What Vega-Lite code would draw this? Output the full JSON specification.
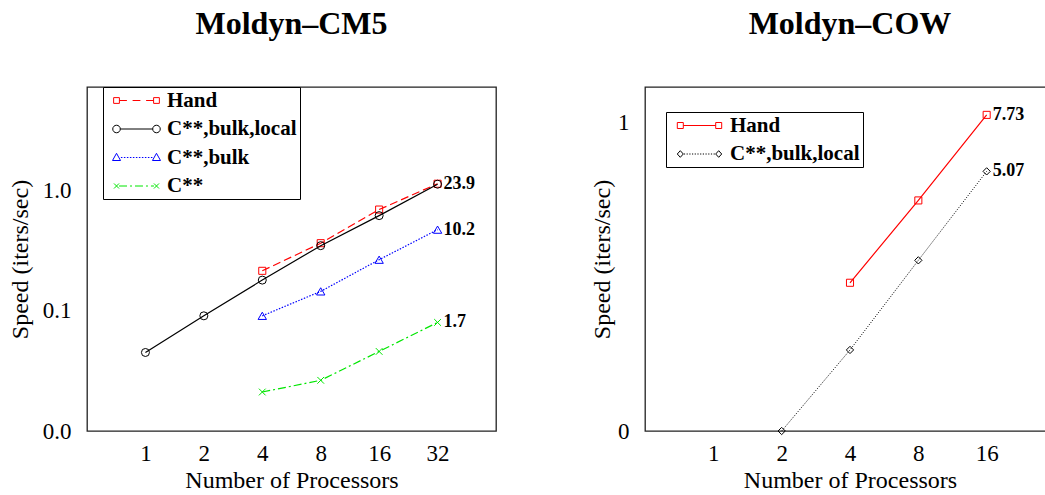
{
  "$schema": "https://vega.github.io/schema/vega-lite/v6.json",
  "background": "white",
  "padding": {"left": 7, "top": 6, "right": 0, "bottom": 0},
  "bounds": "flush",
  "spacing": 149,
  "config": {
    "view": {"stroke": "#222222", "strokeWidth": 1.3},
    "axis": {
      "grid": false, "domain": false,
      "labelFont": "Liberation Serif", "labelFontSize": 23, "labelColor": "black",
      "titleFont": "Liberation Serif", "titleFontSize": 24, "titleFontWeight": "normal", "titleColor": "black",
      "tickColor": "black", "labelOverlap": false, "labelFlush": false
    },
    "title": {"font": "Liberation Serif", "fontSize": 32, "fontWeight": "bold", "color": "black", "offset": 46, "baseline": "alphabetic", "anchor": "middle"},
    "legend": {
      "labelFont": "Liberation Serif", "labelFontSize": 21, "labelFontWeight": "bold", "labelColor": "black", "labelLimit": 400
    }
  },
  "resolve": {
    "scale": {"color": "independent", "shape": "independent"},
    "legend": {"color": "independent", "shape": "independent"}
  },
  "datasets": {
    "cm5": [
      {"series": "Hand", "n": 4, "speed": 0.215},
      {"series": "Hand", "n": 8, "speed": 0.365},
      {"series": "Hand", "n": 16, "speed": 0.695},
      {"series": "Hand", "n": 32, "speed": 1.14, "label": "23.9"},
      {"series": "C**,bulk,local", "n": 1, "speed": 0.045},
      {"series": "C**,bulk,local", "n": 2, "speed": 0.0908},
      {"series": "C**,bulk,local", "n": 4, "speed": 0.18},
      {"series": "C**,bulk,local", "n": 8, "speed": 0.348},
      {"series": "C**,bulk,local", "n": 16, "speed": 0.619},
      {"series": "C**,bulk,local", "n": 32, "speed": 1.13},
      {"series": "C**,bulk", "n": 4, "speed": 0.0908},
      {"series": "C**,bulk", "n": 8, "speed": 0.145},
      {"series": "C**,bulk", "n": 16, "speed": 0.266},
      {"series": "C**,bulk", "n": 32, "speed": 0.473, "label": "10.2"},
      {"series": "C**", "n": 4, "speed": 0.0211},
      {"series": "C**", "n": 8, "speed": 0.0264},
      {"series": "C**", "n": 16, "speed": 0.0459},
      {"series": "C**", "n": 32, "speed": 0.08, "label": "1.7"}
    ],
    "cow": [
      {"series": "Hand", "n": 4, "speed": 0.302},
      {"series": "Hand", "n": 8, "speed": 0.558},
      {"series": "Hand", "n": 16, "speed": 1.056, "label": "7.73"},
      {"series": "C**,bulk,local", "n": 2, "speed": 0.1},
      {"series": "C**,bulk,local", "n": 4, "speed": 0.183},
      {"series": "C**,bulk,local", "n": 8, "speed": 0.357},
      {"series": "C**,bulk,local", "n": 16, "speed": 0.693, "label": "5.07"}
    ]
  },
  "hconcat": [
    {
      "width": 409,
      "height": 344,
      "title": {"text": "Moldyn–CM5"},
      "data": {"name": "cm5"},
      "resolve": {"axis": {"y": "independent"}},
      "encoding": {
        "x": {
          "field": "n", "type": "quantitative",
          "scale": {"type": "log", "base": 2, "domain": [0.5, 64], "nice": false},
          "axis": {"values": [1, 2, 4, 8, 16, 32], "format": "d", "ticks": false, "labelPadding": 29, "labelBaseline": "alphabetic", "labelFont": "Liberation Serif", "labelFontSize": 23, "title": "Number of Processors", "titleFont": "Liberation Serif", "titleFontSize": 24, "titlePadding": 3}
        },
        "y": {
          "field": "speed", "type": "quantitative",
          "scale": {"type": "log", "domain": [0.01, 7.27], "nice": false},
          "axis": null
        }
      },
      "layer": [
        {
          "transform": [{"filter": "datum.series == 'Hand'"}],
          "mark": {"type": "line", "color": "#ff0000", "strokeWidth": 1.2, "strokeDash": [8, 4],
                   "point": {"shape": "square", "filled": false, "size": 50, "color": "#ff0000", "strokeWidth": 1, "opacity": 1}},
          "encoding": {
            "y": {
              "field": "speed", "type": "quantitative",
              "scale": {"type": "log", "domain": [0.01, 7.27], "nice": false},
              "axis": {
                "orient": "left", "title": "Speed (iters/sec)",
                "values": [0.01, 0.02, 0.03, 0.04, 0.05, 0.06, 0.07, 0.08, 0.09, 0.1, 0.2, 0.3, 0.4, 0.5, 0.6, 0.7, 0.8, 0.9, 1, 2, 3, 4, 5, 6, 7],
                "labelExpr": "(datum.value == 0.01 || datum.value == 0.1 || datum.value == 1) ? format(datum.value, '.1f') : ''",
                "labelFont": "Liberation Serif",
                "labelFontSize": {"condition": {"test": "datum.value == 0.01 || datum.value == 0.1 || datum.value == 1", "value": 23}, "value": 0},
                "titleFont": "Liberation Serif", "titleFontSize": 24,
                "tickSize": 0, "labelPadding": 16, "titlePadding": 10,
                "encode": {"ticks": {"update": {"x2": {"signal": "(datum.value == 0.01 || datum.value == 0.1 || datum.value == 1) ? 5 : 3"}}}}
              }
            }
          }
        },
        {
          "transform": [{"filter": "datum.series == 'C**,bulk,local'"}],
          "mark": {"type": "line", "color": "#000000", "strokeWidth": 1.2,
                   "point": {"shape": "circle", "filled": false, "size": 64, "color": "#000000", "strokeWidth": 1, "opacity": 1}}
        },
        {
          "transform": [{"filter": "datum.series == 'C**,bulk'"}],
          "mark": {"type": "line", "color": "#0000ff", "strokeWidth": 1.2, "strokeDash": [1.5, 1.5],
                   "point": {"shape": "triangle-up", "filled": false, "size": 70, "color": "#0000ff", "strokeWidth": 1, "opacity": 1}}
        },
        {
          "transform": [{"filter": "datum.series == 'C**'"}],
          "mark": {"type": "line", "color": "#00e600", "strokeWidth": 1.2, "strokeDash": [8, 3, 2, 3],
                   "point": {"shape": "M-1,-1L1,1M-1,1L1,-1", "filled": false, "size": 45, "color": "#00e600", "strokeWidth": 1, "opacity": 1}}
        },
        {
          "transform": [{"filter": "isValid(datum.label)"}],
          "mark": {"type": "text", "align": "left", "baseline": "middle", "dx": 6, "font": "Liberation Serif", "fontSize": 18, "fontWeight": "bold", "color": "black"},
          "encoding": {
            "text": {"field": "label"},
            "y": {
              "field": "speed", "type": "quantitative",
              "scale": {"type": "log", "domain": [0.01, 7.27], "nice": false},
              "axis": {
                "orient": "right", "title": null, "labels": false,
                "values": [0.01, 0.02, 0.03, 0.04, 0.05, 0.06, 0.07, 0.08, 0.09, 0.1, 0.2, 0.3, 0.4, 0.5, 0.6, 0.7, 0.8, 0.9, 1, 2, 3, 4, 5, 6, 7],
                "tickSize": 0,
                "encode": {"ticks": {"update": {"x2": {"signal": "(datum.value == 0.01 || datum.value == 0.1 || datum.value == 1) ? -5 : -3"}}}}
              }
            }
          }
        },
        {
          "transform": [{"filter": "datum.n < 0"}],
          "mark": {"type": "point", "filled": false, "strokeWidth": 1, "opacity": 1},
          "encoding": {
            "color": {
              "field": "series", "type": "nominal",
              "scale": {"domain": ["Hand", "C**,bulk,local", "C**,bulk", "C**"], "range": ["#ff0000", "#000000", "#0000ff", "#00e600"]},
              "legend": {"title": null, "orient": "none", "legendX": 16, "legendY": 0, "direction": "vertical", "padding": 3, "strokeColor": "black", "fillColor": "white", "symbolSize": 144, "symbolStrokeWidth": 1, "symbolOpacity": 1, "symbolFillColor": "transparent", "symbolOffset": 20, "labelOffset": 20, "rowPadding": 6.5, "labelFont": "Liberation Serif", "labelFontSize": 21, "labelFontWeight": "bold"}
            },
            "shape": {
              "field": "series", "type": "nominal",
              "scale": {"domain": ["Hand", "C**,bulk,local", "C**,bulk", "C**"], "range": [
                "M-3.81,-0.48H-2.85V0.48H-3.81Z M2.85,-0.48H3.81V0.48H2.85Z M-2.85,0H-1.6 M-0.65,0H0.65 M1.6,0H2.85",
                "M-2.7,0A0.63,0.63 0 1,1 -3.96,0A0.63,0.63 0 1,1 -2.7,0Z M3.96,0A0.63,0.63 0 1,1 2.7,0A0.63,0.63 0 1,1 3.96,0Z M-2.7,0H2.7",
                "M-3.33,-0.7L-2.66,0.5H-4Z M3.33,-0.7L4,0.5H2.66Z M-2.6,0H-2.35 M-2.1,0H-1.85 M-1.6,0H-1.35 M-1.1,0H-0.85 M-0.6,0H-0.35 M-0.1,0H0.15 M0.4,0H0.65 M0.9,0H1.15 M1.4,0H1.65 M1.9,0H2.15 M2.4,0H2.65",
                "M-3.75,-0.42L-2.91,0.42M-3.75,0.42L-2.91,-0.42 M2.91,-0.42L3.75,0.42M2.91,0.42L3.75,-0.42 M-2.91,0H-1.58 M-1.08,0H-0.75 M-0.25,0H1.08 M1.58,0H1.91 M2.41,0H2.91"
              ]},
              "legend": {"title": null, "orient": "none", "legendX": 16, "legendY": 0, "direction": "vertical", "padding": 3, "strokeColor": "black", "fillColor": "white", "symbolSize": 144, "symbolStrokeWidth": 1, "symbolOpacity": 1, "symbolFillColor": "transparent", "symbolOffset": 20, "labelOffset": 20, "rowPadding": 6.5, "labelFont": "Liberation Serif", "labelFontSize": 21, "labelFontWeight": "bold"}
            }
          }
        }
      ]
    },
    {
      "width": 410,
      "height": 344,
      "title": {"text": "Moldyn–COW"},
      "data": {"name": "cow"},
      "resolve": {"axis": {"y": "independent"}},
      "encoding": {
        "x": {
          "field": "n", "type": "quantitative",
          "scale": {"type": "log", "base": 2, "domain": [0.5, 32], "nice": false},
          "axis": {"values": [1, 2, 4, 8, 16], "format": "d", "ticks": false, "labelPadding": 29, "labelBaseline": "alphabetic", "labelFont": "Liberation Serif", "labelFontSize": 23, "title": "Number of Processors", "titleFont": "Liberation Serif", "titleFontSize": 24, "titlePadding": 3}
        },
        "y": {
          "field": "speed", "type": "quantitative",
          "scale": {"type": "log", "domain": [0.1, 1.3], "nice": false},
          "axis": null
        }
      },
      "layer": [
        {
          "transform": [{"filter": "datum.series == 'Hand'"}],
          "mark": {"type": "line", "color": "#ff0000", "strokeWidth": 1.2,
                   "point": {"shape": "square", "filled": false, "size": 50, "color": "#ff0000", "strokeWidth": 1, "opacity": 1}},
          "encoding": {
            "y": {
              "field": "speed", "type": "quantitative",
              "scale": {"type": "log", "domain": [0.1, 1.3], "nice": false},
              "axis": {
                "orient": "left", "title": "Speed (iters/sec)",
                "values": [0.1, 0.2, 0.3, 0.4, 0.5, 0.6, 0.7, 0.8, 0.9, 1],
                "labelExpr": "(datum.value == 0.1 || datum.value == 1) ? format(datum.value, '.0f') : ''",
                "labelFont": "Liberation Serif",
                "labelFontSize": {"condition": {"test": "datum.value == 0.1 || datum.value == 1", "value": 23}, "value": 0},
                "titleFont": "Liberation Serif", "titleFontSize": 24,
                "tickSize": 0, "labelPadding": 16, "titlePadding": 3,
                "encode": {"ticks": {"update": {"x2": {"signal": "(datum.value == 0.1 || datum.value == 1) ? 5 : 3"}}}}
              }
            }
          }
        },
        {
          "transform": [{"filter": "datum.series == 'C**,bulk,local'"}],
          "mark": {"type": "line", "color": "#000000", "strokeWidth": 1, "strokeDash": [1, 1.5],
                   "point": {"shape": "diamond", "filled": false, "size": 53, "color": "#000000", "strokeWidth": 1, "opacity": 1}}
        },
        {
          "transform": [{"filter": "isValid(datum.label)"}],
          "mark": {"type": "text", "align": "left", "baseline": "middle", "dx": 6, "font": "Liberation Serif", "fontSize": 18, "fontWeight": "bold", "color": "black"},
          "encoding": {
            "text": {"field": "label"},
            "y": {
              "field": "speed", "type": "quantitative",
              "scale": {"type": "log", "domain": [0.1, 1.3], "nice": false},
              "axis": null
            }
          }
        },
        {
          "transform": [{"filter": "datum.n < 0"}],
          "mark": {"type": "point", "filled": false, "strokeWidth": 1, "opacity": 1},
          "encoding": {
            "color": {
              "field": "series", "type": "nominal",
              "scale": {"domain": ["Hand", "C**,bulk,local"], "range": ["#ff0000", "#000000"]},
              "legend": {"title": null, "orient": "none", "legendX": 21, "legendY": 25, "direction": "vertical", "padding": 3, "strokeColor": "black", "fillColor": "white", "symbolSize": 144, "symbolStrokeWidth": 1, "symbolOpacity": 1, "symbolFillColor": "transparent", "symbolOffset": 20, "labelOffset": 20, "rowPadding": 6.5, "labelFont": "Liberation Serif", "labelFontSize": 21, "labelFontWeight": "bold"}
            },
            "shape": {
              "field": "series", "type": "nominal",
              "scale": {"domain": ["Hand", "C**,bulk,local"], "range": [
                "M-3.7,-0.5H-2.7V0.5H-3.7Z M2.7,-0.5H3.7V0.5H2.7Z M-2.7,0H2.7",
                "M-3.2,-0.55L-2.7,0L-3.2,0.55L-3.7,0Z M3.2,-0.55L3.7,0L3.2,0.55L2.7,0Z M-2.6,0H-2.4 M-2.15,0H-1.95 M-1.7,0H-1.5 M-1.25,0H-1.05 M-0.8,0H-0.6 M-0.35,0H-0.15 M0.1,0H0.3 M0.55,0H0.75 M1.0,0H1.2 M1.45,0H1.65 M1.9,0H2.1 M2.35,0H2.55"
              ]},
              "legend": {"title": null, "orient": "none", "legendX": 21, "legendY": 25, "direction": "vertical", "padding": 3, "strokeColor": "black", "fillColor": "white", "symbolSize": 144, "symbolStrokeWidth": 1, "symbolOpacity": 1, "symbolFillColor": "transparent", "symbolOffset": 20, "labelOffset": 20, "rowPadding": 6.5, "labelFont": "Liberation Serif", "labelFontSize": 21, "labelFontWeight": "bold"}
            }
          }
        }
      ]
    }
  ]
}
